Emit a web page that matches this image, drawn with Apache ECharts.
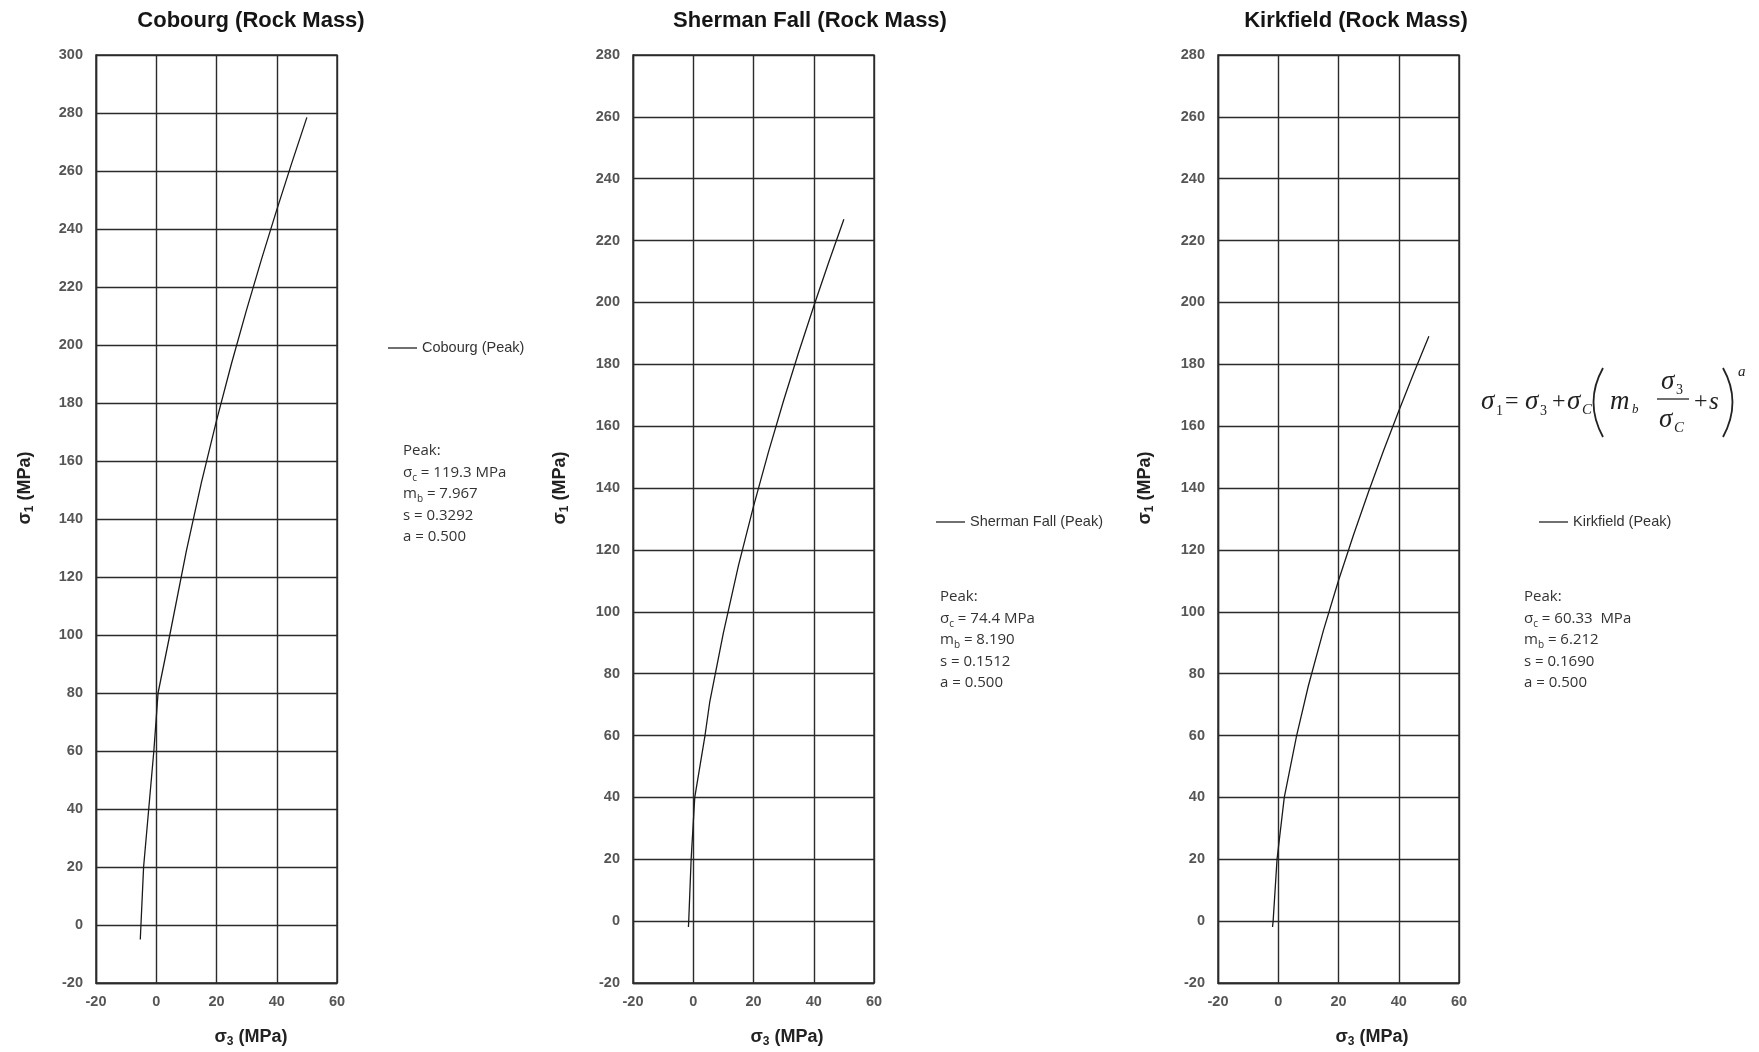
<!DOCTYPE html>
<html>
<head>
<meta charset="utf-8">
<script src="https://cdn.jsdelivr.net/npm/echarts@6/dist/echarts.min.js"></script>
<style>html,body{margin:0;padding:0;background:#fff;}#c{width:1759px;height:1052px;}</style>
</head>
<body>
<div id="c"></div>
<script>
// ---- data ----
const titles = ['Cobourg (Rock Mass)', 'Sherman Fall (Rock Mass)', 'Kirkfield (Rock Mass)'];
const legendNames = ['Cobourg (Peak)', 'Sherman Fall (Peak)', 'Kirkfield (Peak)'];
const peakSigmaC = ['119.3 MPa', '74.4 MPa', '60.33  MPa'];
const peakMb = ['7.967', '8.190', '6.212'];
const peakS = ['0.3292', '0.1512', '0.1690'];
const peakA = ['0.500', '0.500', '0.500'];

const cobourgS3 = [-5.3, -4.2, -2.5, -0.8, 0.6, 4.5, 10, 15, 20, 25, 30, 35, 40, 45, 50];
const cobourgS1 = [-5.0, 20, 40, 60, 80, 100, 129, 152.6, 173.9, 193.7, 212.2, 229.8, 246.6, 262.8, 278.5];
const shermanS3 = [-1.6, -1.5, -0.7, 0.5, 3.9, 5.5, 10, 15, 20, 25, 30, 35, 40, 45, 50];
const shermanS1 = [-1.9, 0, 20, 40, 60, 71, 93.2, 114.9, 134.1, 151.8, 168.3, 183.9, 198.8, 213.1, 226.9];
const kirkS3 = [-1.9, -1.7, -0.4, 2.0, 6.1, 10, 15, 20, 25, 30, 35, 40, 45, 50];
const kirkS1 = [-1.9, 0, 20, 40, 60, 76.1, 94.0, 110.1, 124.9, 138.9, 152.2, 164.9, 177.2, 189.1];

const xMin = -20, xMax = 60, xStep = 20;
const yMins = [-20, -20, -20];
const yMaxs = [300, 280, 280];
const yStep = 20;

// ---- layout ----
const grids = [
  { left: 96, top: 55, width: 241, height: 928 },
  { left: 633, top: 55, width: 241, height: 928 },
  { left: 1218, top: 55, width: 241, height: 928 }
];
const titleX = [251, 810, 1356];
const xNameX = [251, 787, 1372];
const yNameX = [25, 560, 1145];
const legendLineX = [388, 936, 1539];
const legendY = [348, 522, 522];
const annX = [403, 940, 1524];
const annTop = [440, 586, 586];

const pairs = (a, b) => a.map((v, i) => [v, b[i]]);
const seriesData = [pairs(cobourgS3, cobourgS1), pairs(shermanS3, shermanS1), pairs(kirkS3, kirkS1)];

const gridColor = '#2b2b2b';
const labelStyle = { color: '#555', fontSize: 14.5, fontWeight: 'bold', fontFamily: 'Liberation Sans, Arial, sans-serif' };

const xAxes = [], yAxes = [], series = [], gridOpts = [];
for (let i = 0; i < 3; i++) {
  gridOpts.push(Object.assign({ show: true, borderColor: gridColor, borderWidth: 1.4, backgroundColor: '#fff' }, grids[i]));
  xAxes.push({
    gridIndex: i, type: 'value', min: xMin, max: xMax, interval: xStep,
    axisLine: { show: true, onZero: false, lineStyle: { color: gridColor, width: 1.4 } },
    axisTick: { show: false },
    splitLine: { show: true, lineStyle: { color: gridColor, width: 1.4 } },
    axisLabel: Object.assign({ margin: 11 }, labelStyle)
  });
  yAxes.push({
    gridIndex: i, type: 'value', min: yMins[i], max: yMaxs[i], interval: yStep,
    axisLine: { show: true, onZero: false, lineStyle: { color: gridColor, width: 1.4 } },
    axisTick: { show: false },
    splitLine: { show: true, lineStyle: { color: gridColor, width: 1.4 } },
    axisLabel: Object.assign({ margin: 13 }, labelStyle)
  });
  series.push({
    type: 'line', name: legendNames[i], xAxisIndex: i, yAxisIndex: i,
    data: seriesData[i], showSymbol: false, symbol: 'none', smooth: false,
    lineStyle: { color: '#1a1a1a', width: 1.3 }, z: 5
  });
}

// ---- texts ----
const SANS = 'Liberation Sans, Arial, sans-serif';
const CAL = '"Open Sans", "Noto Sans", sans-serif';
const SERIF = '"Liberation Serif", "Times New Roman", serif';
const els = [];
for (let i = 0; i < 3; i++) {
  els.push({ type: 'text', x: titleX[i], y: 21, style: { text: titles[i], fill: '#151515', font: 'bold 22px ' + SANS, align: 'center', verticalAlign: 'middle' } });
  els.push({ type: 'text', x: xNameX[i], y: 1037, style: {
    text: '{m|σ}{s|3}{m| (MPa)}', align: 'center', verticalAlign: 'middle',
    rich: { m: { fontSize: 18, fontWeight: 'bold', fontFamily: SANS, fill: '#222', lineHeight: 22 },
            s: { fontSize: 12, fontWeight: 'bold', fontFamily: SANS, fill: '#222', lineHeight: 13, verticalAlign: 'bottom' } } } });
  els.push({ type: 'text', x: yNameX[i], y: 488, rotation: Math.PI / 2, style: {
    text: '{m|σ}{s|1}{m| (MPa)}', align: 'center', verticalAlign: 'middle',
    rich: { m: { fontSize: 18, fontWeight: 'bold', fontFamily: SANS, fill: '#222', lineHeight: 22 },
            s: { fontSize: 12, fontWeight: 'bold', fontFamily: SANS, fill: '#222', lineHeight: 13, verticalAlign: 'bottom' } } } });
  els.push({ type: 'line', shape: { x1: legendLineX[i], y1: legendY[i], x2: legendLineX[i] + 29, y2: legendY[i] }, style: { stroke: '#222', lineWidth: 1.3 } });
  els.push({ type: 'text', x: legendLineX[i] + 34, y: legendY[i], style: { text: legendNames[i], fill: '#333', font: '14.5px ' + SANS, align: 'left', verticalAlign: 'middle' } });
  els.push({ type: 'text', x: annX[i], y: annTop[i], style: {
    text: '{n|Peak:}\n{n|σ}{sub|c}{n| = ' + peakSigmaC[i] + '}\n{n|m}{sub|b}{n| = ' + peakMb[i] + '}\n{n|s = ' + peakS[i] + '}\n{n|a = ' + peakA[i] + '}',
    align: 'left', verticalAlign: 'top',
    rich: { n: { fontSize: 15, fontFamily: CAL, fill: '#333', lineHeight: 21.5 },
            sub: { fontSize: 10, fontFamily: CAL, fill: '#333', lineHeight: 14, verticalAlign: 'bottom' } } } });
}
// formula (Kirkfield panel)
const fm = (t, x, y, size, italic) => ({ type: 'text', x: x, y: y, style: { text: t, fill: '#222', font: (italic ? 'italic ' : '') + size + 'px ' + SERIF, align: 'left', verticalAlign: 'middle' } });
els.push(fm('σ', 1481, 402, 27, true), fm('1', 1496, 411, 14, false));
els.push(fm('=', 1505, 402, 24, false));
els.push(fm('σ', 1525, 402, 27, true), fm('3', 1540, 411, 14, false));
els.push(fm('+', 1552, 402, 24, false));
els.push(fm('σ', 1567, 402, 27, true), fm('C', 1582, 410, 15, true));
els.push({ type: 'bezierCurve', shape: { x1: 1603, y1: 368, x2: 1603, y2: 437, cpx1: 1584, cpy1: 402 }, style: { stroke: '#222', lineWidth: 1.8, fill: 'none' } });
els.push(fm('m', 1610, 402, 27, true), fm('b', 1632, 410, 13, true));
els.push(fm('σ', 1661, 382, 27, true), fm('3', 1676, 390, 14, false));
els.push({ type: 'line', shape: { x1: 1657, y1: 399, x2: 1689, y2: 399 }, style: { stroke: '#222', lineWidth: 1.3 } });
els.push(fm('σ', 1659, 420, 27, true), fm('C', 1674, 428, 15, true));
els.push(fm('+', 1694, 402, 24, false));
els.push(fm('s', 1709, 402, 25, true));
els.push({ type: 'bezierCurve', shape: { x1: 1723, y1: 368, x2: 1723, y2: 437, cpx1: 1742, cpy1: 402 }, style: { stroke: '#222', lineWidth: 1.8, fill: 'none' } });
els.push(fm('a', 1738, 372, 15, true));

const chart = echarts.init(document.getElementById('c'), null, { renderer: 'canvas' });
chart.setOption({
  backgroundColor: '#fff',
  animation: false,
  grid: gridOpts,
  xAxis: xAxes,
  yAxis: yAxes,
  series: series,
  graphic: { elements: els }
});
</script>
</body>
</html>
